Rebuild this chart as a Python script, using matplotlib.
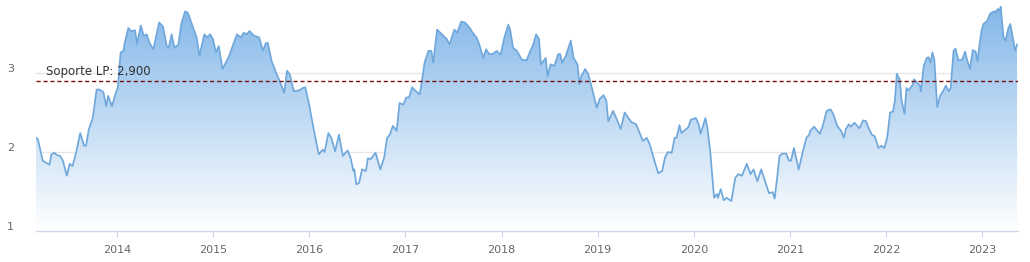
import matplotlib
matplotlib.use("Agg")
import matplotlib.pyplot as plt
import matplotlib.transforms as mtransforms
from matplotlib.patches import Polygon
import numpy as np

# decimal-year dates and values
dates = [
    2013.16, 2013.18, 2013.23, 2013.27, 2013.30, 2013.32, 2013.35, 2013.38, 2013.41, 2013.44,
    2013.48, 2013.51, 2013.54, 2013.58, 2013.62, 2013.66, 2013.68, 2013.71, 2013.75, 2013.79,
    2013.82, 2013.86, 2013.89, 2013.91, 2013.95, 2013.99, 2014.01, 2014.04, 2014.07, 2014.08,
    2014.12, 2014.15, 2014.19, 2014.21, 2014.25, 2014.28, 2014.31, 2014.34, 2014.38, 2014.44,
    2014.48, 2014.52, 2014.54, 2014.57, 2014.60, 2014.64, 2014.67, 2014.71, 2014.74, 2014.79,
    2014.83, 2014.86, 2014.91, 2014.94, 2014.97, 2015.00, 2015.03, 2015.06, 2015.10, 2015.17,
    2015.21, 2015.25, 2015.29, 2015.32, 2015.35, 2015.38, 2015.43, 2015.48, 2015.52, 2015.55,
    2015.57, 2015.61, 2015.67, 2015.70, 2015.74, 2015.77, 2015.80, 2015.84, 2015.90, 2015.93,
    2015.96, 2016.00, 2016.05, 2016.10, 2016.14, 2016.16, 2016.20, 2016.23, 2016.27, 2016.31,
    2016.35, 2016.40, 2016.43, 2016.46, 2016.47, 2016.49, 2016.52, 2016.55, 2016.59, 2016.61,
    2016.64, 2016.69, 2016.74, 2016.78, 2016.81, 2016.84, 2016.87, 2016.91, 2016.94, 2016.98,
    2017.01, 2017.04, 2017.07, 2017.10, 2017.15, 2017.17, 2017.20, 2017.24, 2017.27, 2017.29,
    2017.33, 2017.38, 2017.43, 2017.46, 2017.51, 2017.54, 2017.58, 2017.62, 2017.67, 2017.70,
    2017.74, 2017.77, 2017.81, 2017.84, 2017.87, 2017.91, 2017.95, 2017.99, 2018.03, 2018.07,
    2018.09, 2018.12, 2018.16, 2018.21, 2018.26, 2018.30, 2018.33, 2018.36, 2018.39, 2018.41,
    2018.46, 2018.48, 2018.51, 2018.55, 2018.59, 2018.61, 2018.63, 2018.67, 2018.72, 2018.75,
    2018.79, 2018.81, 2018.83, 2018.87, 2018.90, 2018.93, 2018.99, 2019.02, 2019.06, 2019.09,
    2019.11, 2019.16, 2019.20, 2019.24, 2019.28, 2019.32, 2019.35, 2019.40, 2019.47, 2019.51,
    2019.54, 2019.59, 2019.63, 2019.67, 2019.70, 2019.73, 2019.77, 2019.80, 2019.82, 2019.85,
    2019.87, 2019.94, 2019.97, 2020.02, 2020.05, 2020.07, 2020.12, 2020.14, 2020.17, 2020.21,
    2020.24, 2020.25, 2020.28, 2020.31, 2020.34, 2020.39, 2020.43, 2020.46, 2020.50, 2020.55,
    2020.59, 2020.62, 2020.66, 2020.70, 2020.75, 2020.78, 2020.82, 2020.84, 2020.87, 2020.89,
    2020.92, 2020.96, 2020.99, 2021.01, 2021.04, 2021.09, 2021.13, 2021.17, 2021.20, 2021.21,
    2021.25, 2021.31, 2021.34, 2021.38, 2021.42, 2021.45, 2021.49, 2021.53, 2021.56, 2021.58,
    2021.61, 2021.63, 2021.67, 2021.72, 2021.76, 2021.79, 2021.81, 2021.85, 2021.88, 2021.92,
    2021.95, 2021.98, 2022.01, 2022.04, 2022.07, 2022.09, 2022.11, 2022.14, 2022.16, 2022.19,
    2022.21, 2022.23, 2022.27, 2022.29, 2022.32, 2022.35, 2022.36, 2022.39, 2022.42, 2022.44,
    2022.46, 2022.48, 2022.50, 2022.53, 2022.56, 2022.60, 2022.62, 2022.65, 2022.67, 2022.70,
    2022.72, 2022.75, 2022.79, 2022.82, 2022.84, 2022.87, 2022.90, 2022.93, 2022.95, 2022.97,
    2022.99, 2023.01, 2023.05, 2023.08, 2023.12, 2023.13, 2023.16, 2023.18, 2023.19, 2023.22,
    2023.24, 2023.27, 2023.29, 2023.31, 2023.34, 2023.36,
]
values = [
    2.18, 2.16, 1.89, 1.86, 1.84, 1.97, 1.99, 1.96, 1.95, 1.89,
    1.70, 1.85, 1.82, 2.01, 2.24, 2.08, 2.08, 2.29, 2.43, 2.79,
    2.79, 2.76, 2.58, 2.71, 2.58, 2.75, 2.81, 3.26, 3.28, 3.37,
    3.57, 3.53, 3.54, 3.37, 3.60, 3.47, 3.49, 3.38, 3.30, 3.64,
    3.59, 3.34, 3.32, 3.49, 3.32, 3.36, 3.62, 3.78, 3.76, 3.59,
    3.45, 3.22, 3.49, 3.45, 3.49, 3.43, 3.26, 3.34, 3.05, 3.22,
    3.36, 3.49, 3.45, 3.51, 3.49, 3.53, 3.47, 3.45, 3.28, 3.38,
    3.38, 3.15, 2.96, 2.88, 2.75, 3.03, 2.98, 2.77, 2.78, 2.81,
    2.82, 2.60, 2.27, 1.97, 2.03, 2.00, 2.24, 2.18, 2.01, 2.22,
    1.95, 2.02, 1.93, 1.76, 1.78, 1.59, 1.61, 1.78, 1.76, 1.92,
    1.91, 1.99, 1.78, 1.93, 2.18, 2.22, 2.33, 2.27, 2.62, 2.60,
    2.69, 2.69, 2.82, 2.78, 2.73, 2.88, 3.13, 3.28, 3.28, 3.13,
    3.55, 3.49, 3.43, 3.36, 3.55, 3.51, 3.65, 3.64, 3.57, 3.51,
    3.45, 3.36, 3.19, 3.30, 3.24, 3.24, 3.28, 3.23, 3.45, 3.61,
    3.55, 3.32, 3.28, 3.17, 3.16, 3.28, 3.36, 3.49, 3.43, 3.11,
    3.19, 2.96, 3.11, 3.09, 3.24, 3.24, 3.13, 3.22, 3.41, 3.19,
    3.11, 2.86, 2.96, 3.05, 2.99, 2.86, 2.56, 2.67, 2.72, 2.65,
    2.39, 2.52, 2.41, 2.29, 2.50, 2.43, 2.38, 2.35, 2.14, 2.18,
    2.10, 1.89, 1.73, 1.76, 1.93, 2.00, 1.99, 2.18, 2.18, 2.34,
    2.24, 2.31, 2.41, 2.43, 2.35, 2.23, 2.43, 2.31, 2.01, 1.42,
    1.47, 1.42, 1.53, 1.39, 1.42, 1.38, 1.67, 1.72, 1.70, 1.85,
    1.72, 1.78, 1.63, 1.78, 1.59, 1.48, 1.49, 1.41, 1.72, 1.95,
    1.98, 1.98, 1.89, 1.89, 2.05, 1.78, 1.99, 2.18, 2.22, 2.27,
    2.32, 2.23, 2.33, 2.52, 2.54, 2.48, 2.33, 2.27, 2.18, 2.29,
    2.35, 2.32, 2.37, 2.30, 2.40, 2.39, 2.32, 2.22, 2.20, 2.05,
    2.08, 2.05, 2.18, 2.50, 2.51, 2.65, 2.99, 2.92, 2.65, 2.48,
    2.81, 2.78, 2.84, 2.92, 2.88, 2.84, 2.77, 3.09, 3.19, 3.20,
    3.13, 3.26, 3.17, 2.57, 2.71, 2.79, 2.84, 2.77, 2.81, 3.28,
    3.31, 3.16, 3.17, 3.27, 3.17, 3.05, 3.29, 3.27, 3.15, 3.36,
    3.53, 3.62, 3.66, 3.75, 3.78, 3.76, 3.81, 3.79, 3.84, 3.45,
    3.41, 3.57, 3.62, 3.49, 3.28, 3.36,
]

x_ticks = [2014, 2015, 2016, 2017, 2018, 2019, 2020, 2021, 2022, 2023]
x_tick_labels = ["2014", "2015", "2016", "2017", "2018", "2019", "2020", "2021", "2022", "2023"]
y_ticks = [1, 2, 3]
y_tick_labels = ["1", "2", "3"]
support_value = 2.9
support_label = "Soporte LP: 2,900"

W, H = 1030, 262
fig = plt.figure(figsize=(W / 100, H / 100), dpi=100)
fig.patch.set_facecolor("white")
ax = fig.add_axes([36 / W, 31 / H, (1018 - 36) / W, (H - 31) / H])
ax.set_facecolor("white")

x0, x1 = 2013.16, 2023.37
y0, y1 = 1.0, 3.924
ax.set_xlim(x0, x1)
ax.set_ylim(y0, y1)

# gridlines
for yv in y_ticks[1:]:
    ax.axhline(yv, color="#e6e6e6", lw=1, zorder=0)

# gradient fill under curve
top_col = np.array([0.50, 0.71, 0.91])
bot_col = np.array([1.0, 1.0, 1.0])
n = 256
t = np.linspace(0, 1, n)[:, None]
grad = (top_col[None, :] * (1 - t) + bot_col[None, :] * t)
grad = np.repeat(grad[:, None, :], 2, axis=1)
im = ax.imshow(grad, extent=[x0, x1, y0, y1], origin="upper", aspect="auto", zorder=1,
               interpolation="bilinear")
verts = [(dates[0], y0)] + list(zip(dates, values)) + [(dates[-1], y0)]
poly = Polygon(verts, closed=True, facecolor="none", edgecolor="none", transform=ax.transData)
ax.add_patch(poly)
im.set_clip_path(poly)

ax.plot(dates, values, color="#70a8dc", lw=1.25, zorder=3, solid_joinstyle="round")

# support line
ax.axhline(support_value, color="#7a1010", lw=1.0, ls=(0, (3, 2)), zorder=4)
ax.text(2013.26, support_value + 0.04, support_label, fontsize=8.5, color="#333333",
        ha="left", va="bottom", zorder=5)

# axes styling
for s in ["top", "right", "left"]:
    ax.spines[s].set_visible(False)
ax.spines["bottom"].set_color("#ccd6eb")
ax.spines["bottom"].set_linewidth(1)
ax.spines["bottom"].set_zorder(6)

ax.set_xticks(x_ticks)
ax.set_xticklabels(x_tick_labels)
ax.tick_params(axis="x", length=4, color="#ccd6eb", labelcolor="#666666", labelsize=8, pad=6)

ax.set_yticks(y_ticks)
ax.set_yticklabels(y_tick_labels)
ax.tick_params(axis="y", length=0, labelcolor="#666666", labelsize=8, pad=16)
offset = mtransforms.ScaledTranslation(0, 5 / 100, fig.dpi_scale_trans)
for lab in ax.get_yticklabels():
    lab.set_transform(lab.get_transform() + offset)

fig.savefig("out.png", dpi=100, facecolor="white")
